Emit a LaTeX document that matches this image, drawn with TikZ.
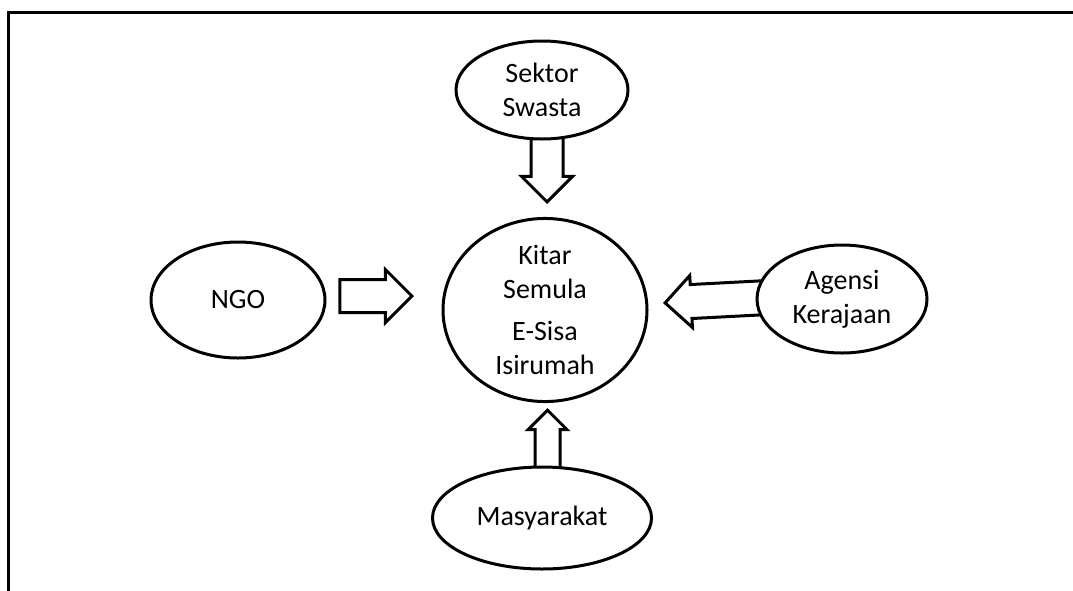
\documentclass[tikz,border=0pt]{standalone}
\usepackage{fontspec}
\setmainfont{Carlito}
\usetikzlibrary{shapes.geometric,shapes.arrows}
\pgfdeclarelayer{edgelayer}
\pgfsetlayers{edgelayer,main}
\tikzset{
  party/.style={draw, ellipse, line width=3pt, fill=white, inner sep=0pt,
    align=center, font=\fontsize{28}{34}\selectfont},
  push/.style={draw, single arrow, line width=3pt, fill=white, inner xsep=0pt,
    single arrow head indent=0pt, anchor=tip},
}
\begin{document}
\begin{tikzpicture}[x=1pt,y=-1pt]
  \useasboundingbox (0,0) rectangle (1073,590);

  % Frame
  \draw[line width=3pt] (8,592) -- (8,12) -- (1075,12);

  % Nodes
  \node[party, minimum width=204, minimum height=166] (recycle) at (545,310)
    {Kitar\\Semula\\[8pt]E-Sisa\\Isirumah};
  \node[party, minimum width=172, minimum height=98] (swasta) at (542,90)
    {Sektor\\Swasta};
  \node[party, minimum width=174, minimum height=116] (ngo) at (238,300) {NGO};
  \node[party, minimum width=170, minimum height=108] (agensi) at (842,299)
    {Agensi\\Kerajaan};
  \node[party, minimum width=219, minimum height=102] (masyarakat) at (542,518)
    {Masyarakat};

  % Arrows
  \begin{pgfonlayer}{edgelayer}
    \node[push, rotate=-90, minimum height=68, inner ysep=14.5,
      single arrow head extend=9.5] (swasta2recycle) at (547,204) {};
    \node[push, minimum height=72, inner ysep=15,
      single arrow head extend=10] (ngo2recycle) at (414,296) {};
    \node[push, rotate=183, minimum height=103, inner ysep=15.5,
      single arrow head extend=9] (agensi2recycle) at (663,303) {};
    \node[push, rotate=90, minimum height=63, inner ysep=11,
      single arrow head extend=7] (masyarakat2recycle) at (547.5,408) {};
  \end{pgfonlayer}

\end{tikzpicture}
\end{document}
